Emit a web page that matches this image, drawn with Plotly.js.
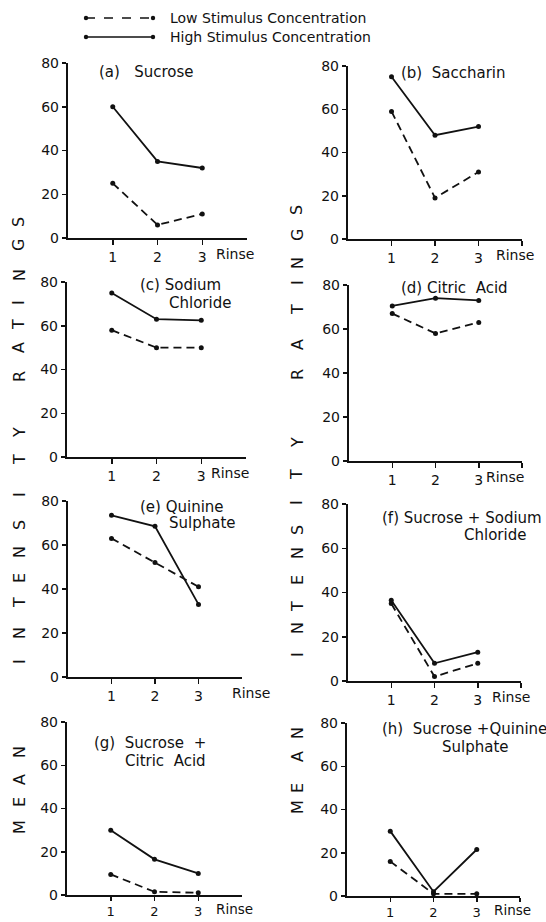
<!DOCTYPE html>
<html>
<head>
<meta charset="utf-8">
<script src="https://cdn.plot.ly/plotly-3.0.1.min.js"></script>
<style>html,body{margin:0;padding:0;background:#fff}#chart{width:546px;height:922px}</style>
</head>
<body>
<div id="chart"></div>
<script>
// ---- data ----
var rinse = [1, 2, 3];
var panelLabels = ['(a)', '(b)', '(c)', '(d)', '(e)', '(f)', '(g)', '(h)'];
var sucroseLow = [25, 6, 11];
var sucroseHigh = [60, 35, 32];
var saccharinLow = [59, 19, 31];
var saccharinHigh = [75, 48, 52];
var sodiumChlorideLow = [58, 50, 50];
var sodiumChlorideHigh = [75, 63, 62.5];
var citricAcidLow = [67, 58, 63];
var citricAcidHigh = [70.5, 74, 73];
var quinineLow = [63, 52, 41];
var quinineHigh = [73.5, 68.5, 33];
var sucroseNaClLow = [35, 2, 8];
var sucroseNaClHigh = [36.5, 8, 13];
var sucroseCitricLow = [9.5, 1.5, 1];
var sucroseCitricHigh = [30, 16.5, 10];
var sucroseQuinineLow = [16, 1, 1];
var sucroseQuinineHigh = [30, 2, 21.5];
var yTicks = [0, 20, 40, 60, 80];
var seriesNames = ['Low Stimulus Concentration', 'High Stimulus Concentration'];
var yLabelText = 'MEAN INTENSITY RATINGS';
var xLabelText = 'Rinse';

var lowSeries = [sucroseLow, saccharinLow, sodiumChlorideLow, citricAcidLow, quinineLow, sucroseNaClLow, sucroseCitricLow, sucroseQuinineLow];
var highSeries = [sucroseHigh, saccharinHigh, sodiumChlorideHigh, citricAcidHigh, quinineHigh, sucroseNaClHigh, sucroseCitricHigh, sucroseQuinineHigh];
var titleLines = [
  ['(a)   Sucrose'], ['(b)  Saccharin'], ['(c) Sodium', 'Chloride'], ['(d) Citric  Acid'],
  ['(e) Quinine', 'Sulphate'], ['(f) Sucrose + Sodium', 'Chloride'], ['(g)  Sucrose  +', 'Citric  Acid'],
  ['(h)  Sucrose +Quinine', 'Sulphate']
];

// ---- layout geometry (pixels) ----
var W = 546, H = 922;
var FONT = 'DejaVu Sans, sans-serif';
var INK = '#111';
// [xLeft, xRight, yZero, yTop]
var geom = [
  [68, 247, 238, 63], [348, 522, 239, 66],
  [67, 246, 457, 282], [349, 522, 461, 285],
  [68, 242, 677, 501], [348, 521, 681, 504],
  [67, 242, 895, 722], [347, 520, 896, 723]
];
var titlePos = [
  [[97, 72]], [[399, 73]], [[138, 285], [167, 303]], [[399, 288]],
  [[138, 507], [167, 523]], [[380, 518], [462, 535]], [[92, 743], [123, 761]],
  [[380, 729], [440, 747]]
];
var rinseX = [235, 515, 230, 505, 251, 511, 234, 512];
var leftLetterY = [827, 802, 780, 752, null, 662, 633, 603, 578, 552, 525, 495, 460, 433, null, 377, 348, 325, 303, 275, 245, 222];
var rightLetterY = [807, 788, 757, 733, null, 655, 628, 607, 580, 553, 530, 503, 475, 443, null, 375, 345, 310, 283, 263, 235, 210];

function px(x) { return x / W; }
function py(y) { return 1 - y / H; }

var traces = [];
var layout = {
  width: W, height: H,
  margin: {l: 0, r: 0, t: 0, b: 0},
  paper_bgcolor: '#fff', plot_bgcolor: 'rgba(0,0,0,0)',
  showlegend: false,
  font: {family: FONT, color: INK, size: 14},
  annotations: [], shapes: []
};

for (var i = 0; i < 8; i++) {
  var n = i + 1;
  var xa = 'x' + (n === 1 ? '' : n), ya = 'y' + (n === 1 ? '' : n);
  var g = geom[i];
  var right = (i % 2 === 1);
  var bottomRow = (i >= 6);
  traces.push({
    x: rinse, y: lowSeries[i], xaxis: xa, yaxis: ya, name: seriesNames[0],
    mode: 'lines+markers', cliponaxis: false,
    line: {color: INK, width: 1.8, dash: '8px,5px'},
    marker: {color: INK, size: 5}
  });
  traces.push({
    x: rinse, y: highSeries[i], xaxis: xa, yaxis: ya, name: seriesNames[1],
    mode: 'lines+markers', cliponaxis: false,
    line: {color: INK, width: 1.8},
    marker: {color: INK, size: 5}
  });
  var xKey = 'xaxis' + (n === 1 ? '' : n), yKey = 'yaxis' + (n === 1 ? '' : n);
  layout[xKey] = {
    domain: [px(g[0]), px(g[1])], range: [0, 4], anchor: ya,
    showline: true, linewidth: 1.8, linecolor: INK,
    ticks: 'outside', ticklen: bottomRow ? 4 : 5, tickwidth: 1.5, tickcolor: INK,
    tickvals: right ? rinse.concat([4]) : rinse,
    ticktext: right ? rinse.map(String).concat(['']) : rinse.map(String),
    showgrid: false, zeroline: false, fixedrange: true,
    tickfont: {family: FONT, size: bottomRow ? 13 : 14, color: INK}
  };
  layout[yKey] = {
    domain: [py(g[2]), py(g[3])], range: [0, 80], anchor: xa,
    showline: true, linewidth: 2.2, linecolor: INK,
    ticks: 'outside', ticklen: 4, tickwidth: 1.5, tickcolor: INK,
    tickvals: yTicks, ticktext: yTicks.map(String),
    showgrid: false, zeroline: false, fixedrange: true,
    tickfont: {family: FONT, size: 14, color: INK}
  };
  for (var k = 0; k < titleLines[i].length; k++) {
    layout.annotations.push({
      xref: 'paper', yref: 'paper', x: px(titlePos[i][k][0]), y: py(titlePos[i][k][1]),
      xanchor: 'left', yanchor: 'middle', showarrow: false,
      text: titleLines[i][k], font: {family: FONT, size: 15, color: INK}
    });
  }
  // "Rinse" sits on the tick-label baseline, just right of the "3"
  layout.annotations.push({
    xref: 'paper', yref: 'paper', x: px(rinseX[i]), y: py(g[2] + (bottomRow ? 14 : 16)),
    xanchor: 'center', yanchor: 'middle', showarrow: false,
    text: xLabelText, font: {family: FONT, size: bottomRow ? 13.5 : 14, color: INK}
  });
}

// vertical spaced axis label, letters rotated
function addLetters(xc, ys) {
  for (var j = 0; j < yLabelText.length; j++) {
    if (ys[j] === null) continue;
    layout.annotations.push({
      xref: 'paper', yref: 'paper', x: px(xc), y: py(ys[j]),
      xanchor: 'center', yanchor: 'middle', showarrow: false, textangle: -90,
      text: yLabelText[j], font: {family: FONT, size: 16, color: INK}
    });
  }
}
addLetters(19, leftLetterY);
addLetters(297, rightLetterY);

// legend (key drawn in the top margin)
var legendRows = [{y: 18, dash: 'dash'}, {y: 37, dash: 'solid'}];
legendRows.forEach(function (row, r) {
  layout.shapes.push({
    type: 'line', xref: 'paper', yref: 'paper',
    x0: px(86), x1: px(153), y0: py(row.y), y1: py(row.y),
    line: {color: INK, width: 1.6, dash: row.dash}
  });
  [86, 153].forEach(function (cx) {
    layout.shapes.push({
      type: 'circle', xref: 'paper', yref: 'paper',
      x0: px(cx - 2.2), x1: px(cx + 2.2), y0: py(row.y - 2.2), y1: py(row.y + 2.2),
      fillcolor: INK, line: {color: INK, width: 0}
    });
  });
  layout.annotations.push({
    xref: 'paper', yref: 'paper', x: px(168), y: py(row.y),
    xanchor: 'left', yanchor: 'middle', showarrow: false,
    text: seriesNames[r], font: {family: FONT, size: 14, color: INK}
  });
});

Plotly.newPlot('chart', traces, layout, {staticPlot: true, displayModeBar: false});
</script>
</body>
</html>
